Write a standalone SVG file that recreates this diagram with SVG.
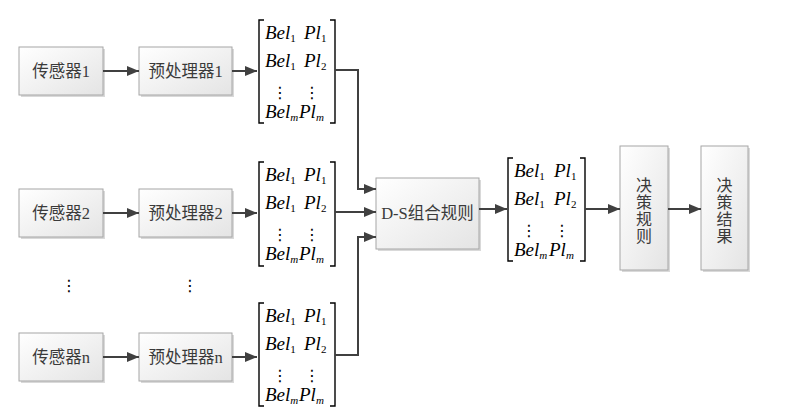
<svg xmlns="http://www.w3.org/2000/svg" width="786" height="415" viewBox="0 0 786 415">
<defs>
<linearGradient id="g" x1="0" y1="0" x2="1" y2="1">
<stop offset="0" stop-color="#ffffff"/>
<stop offset="1" stop-color="#e4e4e4"/>
</linearGradient>
<marker id="ah" markerUnits="userSpaceOnUse" markerWidth="12" markerHeight="10" refX="12" refY="5" orient="auto">
<path d="M0,0 L12,5 L0,10 z" fill="#404040"/>
</marker>
</defs>
<style>
.box{fill:url(#g);stroke:#a6a6a6;stroke-width:1}
.sh{fill:#d9d9d9}
.lbl{font-family:'Liberation Serif','Times New Roman','Noto Sans CJK SC',serif;font-size:16.5px;fill:#3a3a3a;text-anchor:middle}
.v{font-size:16px}
.con{fill:none;stroke:#404040;stroke-width:2}
.br{fill:none;stroke:#000;stroke-width:1.4}
.m{font-family:'Liberation Serif','Times New Roman',serif;font-style:italic;font-size:19px;fill:#000}
.s{font-size:11px}
.n{font-style:normal}
.dots{font-family:'Noto Sans CJK SC','DejaVu Sans',sans-serif;font-size:16px;fill:#000;text-anchor:middle}
</style>

<g id="sensor1"><rect class="sh" x="21" y="49" width="84" height="48"/><rect class="box" x="19" y="47" width="84" height="48"/><text class="lbl" x="61" y="77">传感器1</text></g>
<g id="pre1"><rect class="sh" x="141" y="49" width="93" height="48"/><rect class="box" x="139" y="47" width="93" height="48"/><text class="lbl" x="185.5" y="77">预处理器1</text></g>
<g id="sensor2"><rect class="sh" x="21" y="191" width="84" height="48"/><rect class="box" x="19" y="189" width="84" height="48"/><text class="lbl" x="61" y="219">传感器2</text></g>
<g id="pre2"><rect class="sh" x="141" y="191" width="93" height="48"/><rect class="box" x="139" y="189" width="93" height="48"/><text class="lbl" x="185.5" y="219">预处理器2</text></g>
<g id="sensorn"><rect class="sh" x="21" y="335" width="84" height="48"/><rect class="box" x="19" y="333" width="84" height="48"/><text class="lbl" x="61" y="363">传感器n</text></g>
<g id="pren"><rect class="sh" x="141" y="335" width="93" height="48"/><rect class="box" x="139" y="333" width="93" height="48"/><text class="lbl" x="185.5" y="363">预处理器n</text></g>

<g id="ellipsis">
<text class="dots" x="69" y="291">⋮</text>
<text class="dots" x="190" y="291">⋮</text>
</g>

<g id="matrix1" transform="translate(259,20)">
<path class="br" d="M5,0 H0 V103 H5 M71,0 H76 V103 H71"/>
<text class="m" x="6" y="19">Bel<tspan class="s n" dy="3">1</tspan></text><text class="m" x="45" y="19">Pl<tspan class="s n" dy="3">1</tspan></text>
<text class="m" x="6" y="47">Bel<tspan class="s n" dy="3">1</tspan></text><text class="m" x="45" y="47">Pl<tspan class="s n" dy="3">2</tspan></text>
<text class="dots" x="21" y="78">⋮</text><text class="dots" x="53" y="78">⋮</text>
<text class="m" x="6" y="98">Bel<tspan class="s" dy="3">m</tspan></text><text class="m" x="40" y="98">Pl<tspan class="s" dy="3">m</tspan></text>
</g>
<g id="matrix2" transform="translate(259,162)">
<path class="br" d="M5,0 H0 V104 H5 M71,0 H76 V104 H71"/>
<text class="m" x="6" y="19">Bel<tspan class="s n" dy="3">1</tspan></text><text class="m" x="45" y="19">Pl<tspan class="s n" dy="3">1</tspan></text>
<text class="m" x="6" y="47">Bel<tspan class="s n" dy="3">1</tspan></text><text class="m" x="45" y="47">Pl<tspan class="s n" dy="3">2</tspan></text>
<text class="dots" x="21" y="78">⋮</text><text class="dots" x="53" y="78">⋮</text>
<text class="m" x="6" y="98">Bel<tspan class="s" dy="3">m</tspan></text><text class="m" x="40" y="98">Pl<tspan class="s" dy="3">m</tspan></text>
</g>
<g id="matrixn" transform="translate(259,303)">
<path class="br" d="M5,0 H0 V103 H5 M71,0 H76 V103 H71"/>
<text class="m" x="6" y="19">Bel<tspan class="s n" dy="3">1</tspan></text><text class="m" x="45" y="19">Pl<tspan class="s n" dy="3">1</tspan></text>
<text class="m" x="6" y="47">Bel<tspan class="s n" dy="3">1</tspan></text><text class="m" x="45" y="47">Pl<tspan class="s n" dy="3">2</tspan></text>
<text class="dots" x="21" y="78">⋮</text><text class="dots" x="53" y="78">⋮</text>
<text class="m" x="6" y="98">Bel<tspan class="s" dy="3">m</tspan></text><text class="m" x="40" y="98">Pl<tspan class="s" dy="3">m</tspan></text>
</g>
<g id="matrixout" transform="translate(508,158)">
<path class="br" d="M5,0 H0 V103 H5 M72,0 H77 V103 H72"/>
<text class="m" x="6" y="19">Bel<tspan class="s n" dy="3">1</tspan></text><text class="m" x="46" y="19">Pl<tspan class="s n" dy="3">1</tspan></text>
<text class="m" x="6" y="47">Bel<tspan class="s n" dy="3">1</tspan></text><text class="m" x="46" y="47">Pl<tspan class="s n" dy="3">2</tspan></text>
<text class="dots" x="21" y="78">⋮</text><text class="dots" x="54" y="78">⋮</text>
<text class="m" x="6" y="98">Bel<tspan class="s" dy="3">m</tspan></text><text class="m" x="41" y="98">Pl<tspan class="s" dy="3">m</tspan></text>
</g>

<g id="ds"><rect class="sh" x="378" y="180" width="103" height="71"/><rect class="box" x="376" y="178" width="103" height="71"/><text class="lbl" x="427.5" y="219">D-S组合规则</text></g>
<g id="rule"><rect class="sh" x="622" y="148" width="48" height="124"/><rect class="box" x="620" y="146" width="48" height="124"/>
<text class="lbl v" x="644"><tspan x="644" y="191">决</tspan><tspan x="644" y="208">策</tspan><tspan x="644" y="225">规</tspan><tspan x="644" y="242">则</tspan></text></g>
<g id="result"><rect class="sh" x="703" y="148" width="47" height="124"/><rect class="box" x="701" y="146" width="47" height="124"/>
<text class="lbl v" x="724.5"><tspan x="724.5" y="191">决</tspan><tspan x="724.5" y="208">策</tspan><tspan x="724.5" y="225">结</tspan><tspan x="724.5" y="242">果</tspan></text></g>

<g id="connectors">
<path class="con" d="M103,71 H139" marker-end="url(#ah)"/>
<path class="con" d="M232,71 H257" marker-end="url(#ah)"/>
<path class="con" d="M103,213 H139" marker-end="url(#ah)"/>
<path class="con" d="M232,213 H257" marker-end="url(#ah)"/>
<path class="con" d="M103,357 H139" marker-end="url(#ah)"/>
<path class="con" d="M232,357 H257" marker-end="url(#ah)"/>
<path class="con" d="M335,70 H358 V189 H376" marker-end="url(#ah)"/>
<path class="con" d="M335,212 H376" marker-end="url(#ah)"/>
<path class="con" d="M335,355 H358 V237 H376" marker-end="url(#ah)"/>
<path class="con" d="M479,209 H507" marker-end="url(#ah)"/>
<path class="con" d="M585,209 H620" marker-end="url(#ah)"/>
<path class="con" d="M668,209 H701" marker-end="url(#ah)"/>
</g>
</svg>
